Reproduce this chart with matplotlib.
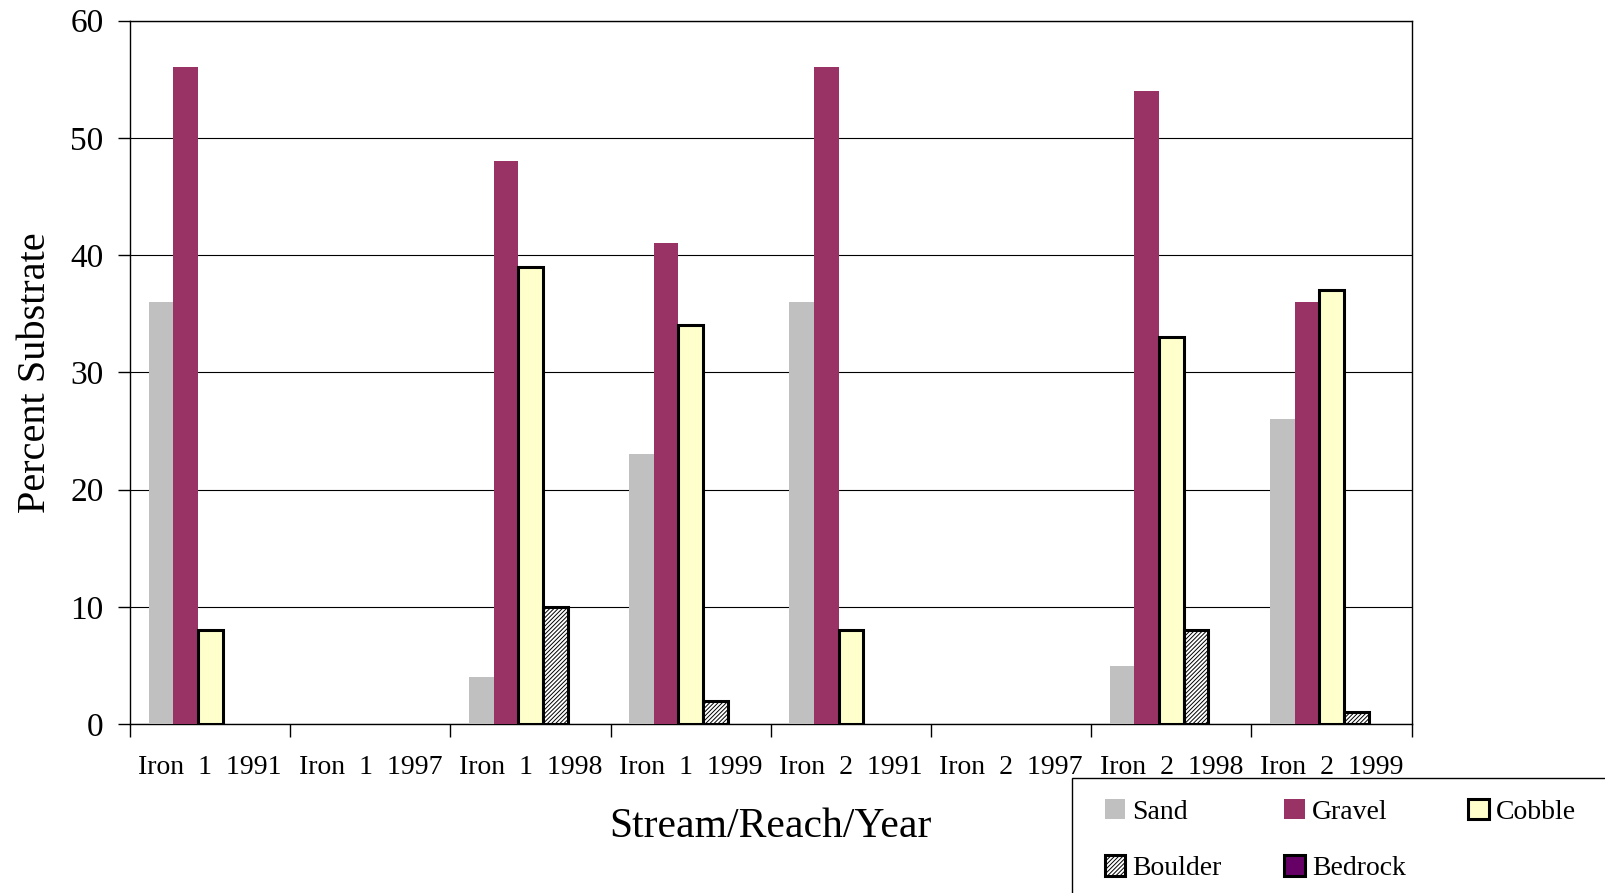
import numpy as np
import matplotlib
matplotlib.use("Agg")
import matplotlib.pyplot as plt
from matplotlib.patches import Rectangle

plt.rcParams['font.family'] = ['Liberation Serif', 'DejaVu Serif']
plt.rcParams['hatch.color'] = '#505050'
plt.rcParams['hatch.linewidth'] = 0.7

categories = ['Iron  1  1991', 'Iron  1  1997', 'Iron  1  1998', 'Iron  1  1999',
              'Iron  2  1991', 'Iron  2  1997', 'Iron  2  1998', 'Iron  2  1999']
sand = [36, 0, 4, 23, 36, 0, 5, 26]
gravel = [56, 0, 48, 41, 56, 0, 54, 36]
cobble = [8, 0, 39, 34, 8, 0, 33, 37]
boulder = [0, 0, 10, 2, 0, 0, 8, 1]
bedrock = [0, 0, 0, 0, 0, 0, 0, 0]

series = [
    ('Sand', sand, dict(color='#C0C0C0', edgecolor='#C0C0C0', linewidth=0)),
    ('Gravel', gravel, dict(color='#993366', edgecolor='#993366', linewidth=0)),
    ('Cobble', cobble, dict(facecolor='#FFFFCC', edgecolor='black', linewidth=2.2)),
    ('Boulder', boulder, dict(facecolor='white', edgecolor='black', linewidth=2.2, hatch='////////')),
    ('Bedrock', bedrock, dict(facecolor='#660066', edgecolor='black', linewidth=2.2)),
]

fig = plt.figure(figsize=(16.06, 8.93), dpi=100)
ax = fig.add_axes([0.081, 0.189, 0.798, 0.788])

x = np.arange(len(categories))
w = 0.154
handles = {}
for i, (name, vals, style) in enumerate(series):
    v = np.array(vals, dtype=float)
    v[v == 0] = np.nan  # empty cells are not drawn
    handles[name] = ax.bar(x + (i - 2) * w, v, w, label=name, zorder=3, **style)

ax.set_xlim(-0.5, len(categories) - 0.5)
ax.set_ylim(0, 60)
ax.set_yticks(range(0, 61, 10))
ax.yaxis.grid(True, color='black', linewidth=0.8, zorder=0)
ax.set_axisbelow(True)

ax.set_xticks(x)
ax.set_xticklabels(categories, fontsize=20)
ax.set_xticks(np.arange(-0.5, len(categories)), minor=True)
ax.tick_params(axis='x', which='major', length=0, pad=22)
ax.tick_params(axis='x', which='minor', length=9, width=1, direction='out')
ax.tick_params(axis='y', labelsize=24, length=9, width=1, direction='out', pad=10)
for s in ax.spines.values():
    s.set_linewidth(1)

ax.set_ylabel('Percent Substrate', fontsize=29, labelpad=12)
ax.set_xlabel('Stream/Reach/Year', fontsize=30, labelpad=20)

# legend laid out row-wise: Sand Gravel Cobble / Boulder Bedrock
order = ['Sand', 'Boulder', 'Gravel', 'Bedrock', 'Cobble']
leg = fig.legend([handles[n] for n in order], order, loc='upper left', ncol=3,
                 bbox_to_anchor=(0.6791, 0.1211), frameon=False,
                 fontsize=20, handlelength=0.75, handleheight=0.75,
                 handletextpad=0.25, labelspacing=1.1, borderpad=0,
                 columnspacing=2.25)
fig.patches.append(Rectangle((1072 / 1606, -0.1), 0.5, 0.1 + 1 - 778 / 893,
                             transform=fig.transFigure, fill=False,
                             edgecolor='black', linewidth=1))

fig.savefig('out.png', dpi=100)
